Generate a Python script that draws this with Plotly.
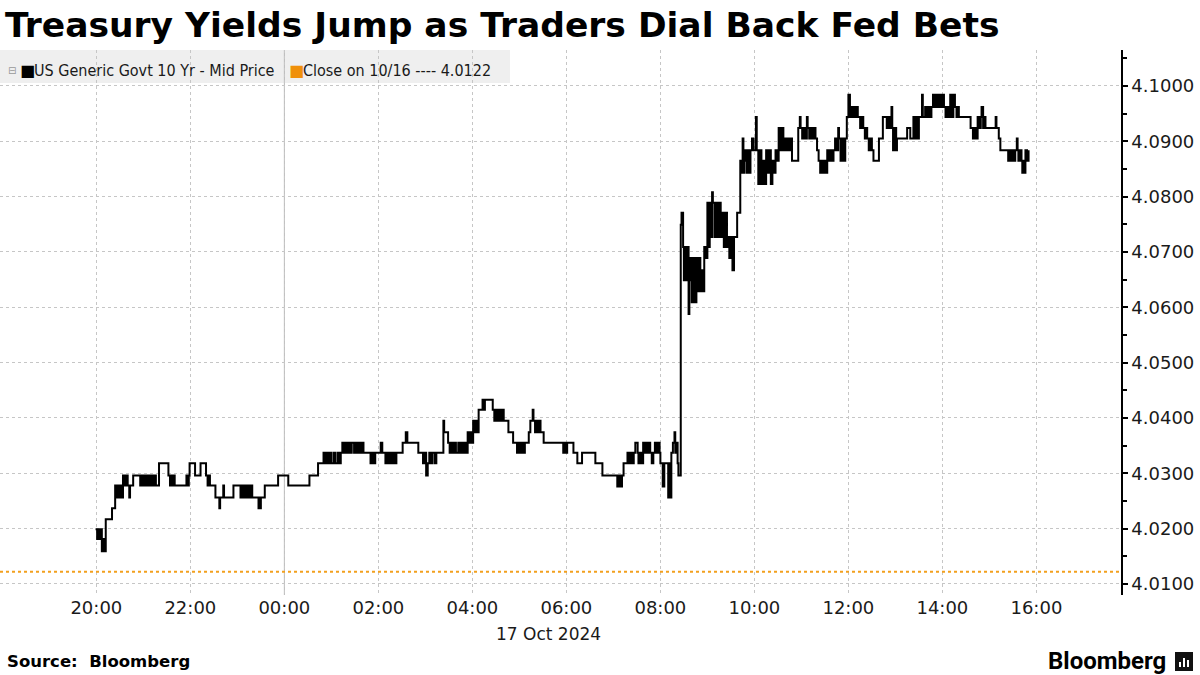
import plotly.graph_objects as go

# ---------------- data ----------------
title_text = "Treasury Yields Jump as Traders Dial Back Fed Bets"
series_name = "US Generic Govt 10 Yr - Mid Price"
close_label = "Close on 10/16 ---- 4.0122"
close_value = 4.0122
date_label = "17 Oct 2024"

times_oct16 = [
    "19:59", "20:01", "20:02", "20:04", "20:05", "20:07", "20:08", "20:09", "20:10", "20:11",
    "20:12", "20:20", "20:24", "20:26", "20:27", "20:28", "20:29", "20:31", "20:32", "20:33",
    "20:34", "20:35", "20:36", "20:37", "20:39", "20:40", "20:42", "20:43", "20:47", "20:56",
    "20:58", "20:59", "21:01", "21:02", "21:04", "21:06", "21:08", "21:09", "21:11", "21:13",
    "21:15", "21:16", "21:20", "21:32", "21:34", "21:35", "21:37", "21:38", "21:40", "21:55",
    "21:56", "21:58", "21:59", "22:06", "22:13", "22:20", "22:22", "22:23", "22:25", "22:32",
    "22:37", "22:38", "22:42", "22:43", "22:55", "23:04", "23:06", "23:08", "23:10", "23:12",
    "23:14", "23:16", "23:17", "23:19", "23:27", "23:28", "23:29", "23:30", "23:35", "23:52",
]
yields_oct16 = [
    4.0199, 4.0181, 4.0199, 4.0181, 4.0199, 4.0159, 4.0181, 4.0159, 4.0181, 4.0159,
    4.0217, 4.0237, 4.0278, 4.0256, 4.0278, 4.0256, 4.0278, 4.0256, 4.0278, 4.0256,
    4.0296, 4.0278, 4.0296, 4.0278, 4.0296, 4.0278, 4.0256, 4.0278, 4.0296, 4.0278,
    4.0296, 4.0278, 4.0296, 4.0278, 4.0296, 4.0278, 4.0296, 4.0278, 4.0296, 4.0278,
    4.0296, 4.0278, 4.0318, 4.0296, 4.0278, 4.0296, 4.0278, 4.0296, 4.0278, 4.0296,
    4.0278, 4.0296, 4.0318, 4.0296, 4.0318, 4.0296, 4.0278, 4.0296, 4.0278, 4.0256,
    4.0237, 4.0256, 4.0278, 4.0256, 4.0278, 4.0256, 4.0278, 4.0256, 4.0278, 4.0256,
    4.0278, 4.0256, 4.0278, 4.0256, 4.0237, 4.0256, 4.0237, 4.0256, 4.0278, 4.0296,
]

times_oct17 = [
    "00:05", "00:32", "00:43", "00:50", "00:52", "00:54", "00:56", "00:58", "01:00", "01:03",
    "01:05", "01:08", "01:10", "01:12", "01:14", "01:16", "01:18", "01:20", "01:22", "01:24",
    "01:26", "01:29", "01:31", "01:33", "01:35", "01:37", "01:39", "01:41", "01:50", "01:52",
    "01:54", "01:56", "02:03", "02:05", "02:09", "02:11", "02:13", "02:15", "02:17", "02:19",
    "02:21", "02:23", "02:31", "02:35", "02:37", "02:51", "02:57", "02:59", "03:01", "03:03",
    "03:05", "03:07", "03:09", "03:12", "03:14", "03:23", "03:24", "03:29", "03:31", "03:33",
    "03:35", "03:37", "03:39", "03:42", "03:44", "03:46", "03:48", "03:50", "03:52", "03:54",
    "03:56", "03:58", "04:00", "04:01", "04:03", "04:05", "04:06", "04:08", "04:13", "04:14",
    "04:16", "04:26", "04:28", "04:30", "04:32", "04:34", "04:36", "04:38", "04:40", "04:46",
    "04:52", "04:57", "04:59", "05:01", "05:03", "05:05", "05:07", "05:12", "05:14", "05:17",
    "05:18", "05:20", "05:22", "05:24", "05:25", "05:27", "05:31", "05:56", "05:58", "06:00",
    "06:01", "06:09", "06:14", "06:20", "06:37", "06:46", "07:05", "07:07", "07:09", "07:11",
    "07:13", "07:18", "07:20", "07:22", "07:24", "07:26", "07:28", "07:31", "07:32", "07:34",
    "07:36", "07:38", "07:40", "07:42", "07:44", "07:46", "07:47", "07:49", "07:51", "07:53",
    "07:55", "07:57", "07:59", "08:00", "08:03", "08:05", "08:10", "08:11", "08:12", "08:14",
    "08:16", "08:18", "08:19", "08:20", "08:22", "08:23", "08:26", "08:27", "08:29", "08:30",
    "08:32", "08:33", "08:35", "08:36", "08:37", "08:38", "08:40", "08:42", "08:44", "08:46",
    "08:48", "08:50", "08:51", "08:53", "08:55", "08:56", "08:58", "09:00", "09:01", "09:03",
    "09:04", "09:06", "09:07", "09:09", "09:11", "09:13", "09:15", "09:17", "09:19", "09:21",
    "09:23", "09:25", "09:26", "09:28", "09:30", "09:32", "09:34", "09:38", "09:42", "09:43",
    "09:45", "09:46", "09:47", "09:48", "09:50", "09:52", "09:54", "09:55", "09:57", "09:59",
    "10:02", "10:03", "10:05", "10:07", "10:09", "10:11", "10:13", "10:15", "10:17", "10:19",
    "10:21", "10:23", "10:25", "10:27", "10:29", "10:31", "10:33", "10:35", "10:37", "10:38",
    "10:40", "10:42", "10:44", "10:46", "10:48", "10:56", "10:58", "10:59", "11:01", "11:03",
    "11:05", "11:07", "11:08", "11:10", "11:12", "11:14", "11:16", "11:18", "11:20", "11:22",
    "11:24", "11:26", "11:28", "11:30", "11:32", "11:33", "11:35", "11:37", "11:39", "11:41",
    "11:43", "11:45", "11:47", "11:48", "11:50", "11:52", "11:54", "11:56", "11:58", "12:00",
    "12:02", "12:03", "12:05", "12:07", "12:09", "12:11", "12:12", "12:15", "12:17", "12:19",
    "12:21", "12:23", "12:24", "12:26", "12:28", "12:30", "12:32", "12:39", "12:44", "12:49",
    "12:51", "12:53", "12:55", "12:56", "12:57", "12:59", "13:01", "13:02", "13:15", "13:19",
    "13:23", "13:25", "13:27", "13:29", "13:30", "13:34", "13:35", "13:38", "13:40", "13:42",
    "13:44", "13:46", "13:48", "13:50", "13:52", "13:54", "13:56", "13:58", "14:00", "14:02",
    "14:04", "14:06", "14:08", "14:10", "14:12", "14:14", "14:16", "14:18", "14:19", "14:21",
    "14:36", "14:39", "14:41", "14:43", "14:45", "14:47", "14:49", "14:50", "14:52", "14:54",
    "14:55", "15:08", "15:09", "15:12", "15:14", "15:24", "15:26", "15:28", "15:30", "15:32",
    "15:33", "15:35", "15:36", "15:37", "15:39", "15:41", "15:42", "15:44", "15:45", "15:46",
    "15:48", "15:50",
]
yields_oct17 = [
    4.0278, 4.0296, 4.0318, 4.0337, 4.0318, 4.0337, 4.0318, 4.0337, 4.0318, 4.0337,
    4.0318, 4.0337, 4.0318, 4.0337, 4.0355, 4.0337, 4.0355, 4.0337, 4.0355, 4.0337,
    4.0355, 4.0337, 4.0355, 4.0337, 4.0355, 4.0337, 4.0355, 4.0337, 4.0318, 4.0337,
    4.0318, 4.0337, 4.0355, 4.0337, 4.0318, 4.0337, 4.0318, 4.0337, 4.0318, 4.0337,
    4.0318, 4.0337, 4.0355, 4.0374, 4.0355, 4.0337, 4.0318, 4.0337, 4.0296, 4.0318,
    4.0337, 4.0318, 4.0337, 4.0318, 4.0337, 4.0395, 4.0374, 4.0355, 4.0337, 4.0355,
    4.0337, 4.0355, 4.0337, 4.0355, 4.0337, 4.0355, 4.0337, 4.0355, 4.0337, 4.0374,
    4.0355, 4.0374, 4.0355, 4.0395, 4.0374, 4.0395, 4.0374, 4.0415, 4.0433, 4.0415,
    4.0433, 4.0415, 4.0395, 4.0415, 4.0395, 4.0415, 4.0395, 4.0415, 4.0395, 4.0374,
    4.0355, 4.0337, 4.0355, 4.0337, 4.0355, 4.0337, 4.0355, 4.0374, 4.0395, 4.0415,
    4.0395, 4.0374, 4.0395, 4.0374, 4.0395, 4.0374, 4.0355, 4.0337, 4.0355, 4.0337,
    4.0355, 4.0337, 4.0318, 4.0337, 4.0318, 4.0296, 4.0276, 4.0296, 4.0276, 4.0296,
    4.0318, 4.0337, 4.0318, 4.0337, 4.0318, 4.0337, 4.0355, 4.0337, 4.0318, 4.0337,
    4.0318, 4.0355, 4.0337, 4.0355, 4.0337, 4.0355, 4.0337, 4.0318, 4.0337, 4.0355,
    4.0337, 4.0355, 4.0337, 4.0318, 4.0276, 4.0318, 4.0256, 4.0318, 4.0256, 4.0337,
    4.0355, 4.0374, 4.0337, 4.0355, 4.0318, 4.0296, 4.0749, 4.0771, 4.0709, 4.0649,
    4.0709, 4.0649, 4.0709, 4.0588, 4.0649, 4.0689, 4.0609, 4.0689, 4.0609, 4.0689,
    4.0629, 4.0689, 4.0629, 4.0667, 4.0629, 4.0709, 4.0689, 4.0789, 4.0709, 4.0789,
    4.0727, 4.0808, 4.0789, 4.0727, 4.0789, 4.0727, 4.0789, 4.0727, 4.0771, 4.0709,
    4.0771, 4.0709, 4.0727, 4.0689, 4.0727, 4.0667, 4.0727, 4.0771, 4.0865, 4.0843,
    4.0905, 4.0843, 4.0865, 4.0884, 4.0843, 4.0884, 4.0843, 4.0884, 4.0905, 4.0884,
    4.0944, 4.0884, 4.0823, 4.0884, 4.0823, 4.0865, 4.0823, 4.0884, 4.0843, 4.0884,
    4.0823, 4.0865, 4.0843, 4.0884, 4.0865, 4.0924, 4.0884, 4.0924, 4.0884, 4.0905,
    4.0884, 4.0905, 4.0884, 4.0905, 4.0865, 4.0924, 4.0944, 4.0924, 4.0905, 4.0924,
    4.0905, 4.0944, 4.0924, 4.0905, 4.0924, 4.0905, 4.0924, 4.0905, 4.0884, 4.0865,
    4.0843, 4.0865, 4.0843, 4.0865, 4.0843, 4.0884, 4.0865, 4.0884, 4.0865, 4.0884,
    4.0905, 4.0884, 4.0924, 4.0905, 4.0865, 4.0905, 4.0865, 4.0905, 4.0944, 4.0984,
    4.0944, 4.0962, 4.0944, 4.0962, 4.0944, 4.0962, 4.0944, 4.0924, 4.0944, 4.0924,
    4.0905, 4.0924, 4.0905, 4.0884, 4.0905, 4.0884, 4.0865, 4.0905, 4.0944, 4.0924,
    4.0944, 4.0924, 4.0962, 4.0924, 4.0884, 4.0924, 4.0884, 4.0905, 4.0924, 4.0905,
    4.0944, 4.0905, 4.0944, 4.0905, 4.0944, 4.0984, 4.0944, 4.0962, 4.0944, 4.0962,
    4.0944, 4.0962, 4.0984, 4.0962, 4.0984, 4.0962, 4.0984, 4.0962, 4.0984, 4.0962,
    4.0944, 4.0962, 4.0944, 4.0984, 4.0944, 4.0984, 4.0962, 4.0944, 4.0962, 4.0944,
    4.0924, 4.0905, 4.0924, 4.0905, 4.0944, 4.0924, 4.0944, 4.0962, 4.0924, 4.0944,
    4.0924, 4.0944, 4.0924, 4.0905, 4.0884, 4.0865, 4.0884, 4.0865, 4.0884, 4.0865,
    4.0884, 4.0905, 4.0884, 4.0865, 4.0884, 4.0865, 4.0843, 4.0865, 4.0843, 4.0884,
    4.0865, 4.0884,
]

y_tick_values = [4.01, 4.02, 4.03, 4.04, 4.05, 4.06, 4.07, 4.08, 4.09, 4.10]
y_tick_labels = ["4.0100", "4.0200", "4.0300", "4.0400", "4.0500",
                 "4.0600", "4.0700", "4.0800", "4.0900", "4.1000"]
y_minor_ticks = [4.015, 4.025, 4.035, 4.045, 4.055, 4.065, 4.075, 4.085, 4.095, 4.105]
x_tick_values = ["2024-10-16 20:00", "2024-10-16 22:00", "2024-10-17 00:00",
                 "2024-10-17 02:00", "2024-10-17 04:00", "2024-10-17 06:00",
                 "2024-10-17 08:00", "2024-10-17 10:00", "2024-10-17 12:00",
                 "2024-10-17 14:00", "2024-10-17 16:00"]
x_tick_labels = ["20:00", "22:00", "00:00", "02:00", "04:00", "06:00",
                 "08:00", "10:00", "12:00", "14:00", "16:00"]
day_boundary = "2024-10-17 00:00"
x_range = ["2024-10-16 17:57", "2024-10-17 17:48"]
y_range = [4.0080, 4.1065]

assert len(times_oct16) == len(yields_oct16)
assert len(times_oct17) == len(yields_oct17)

times = ["2024-10-16 " + t for t in times_oct16] + ["2024-10-17 " + t for t in times_oct17]
yields = yields_oct16 + yields_oct17

# ---------------- figure ----------------
W, H = 1200, 675
ML, MR, MT, MB = 0, 79, 50, 80
PW = W - ML - MR
PH = H - MT - MB

ORANGE = "#F0900A"
CLOSE_LINE = "#F2A01E"
GRID = "#c6c6c6"
TXT = "#1a1a1a"


def px_x(px):
    return (px - ML) / PW


def px_y(py):
    return (H - MB - py) / PH


fig = go.Figure()

fig.add_trace(go.Scatter(
    x=times, y=yields, mode="lines", name=series_name,
    line=dict(color="black", width=2, shape="hv"),
    showlegend=False, hoverinfo="skip",
))

fig.add_trace(go.Scatter(
    x=x_range, y=[close_value, close_value], mode="lines", name=close_label,
    line=dict(color=CLOSE_LINE, width=2, dash="dot"),
    showlegend=False, hoverinfo="skip",
))

shapes = [
    # legend background strip
    dict(type="rect", xref="paper", yref="paper", x0=0, x1=px_x(510),
         y0=px_y(83), y1=1, fillcolor="#efefef", line=dict(width=0), layer="below"),
    # solid day-boundary line
    dict(type="line", xref="x", yref="paper", x0=day_boundary, x1=day_boundary,
         y0=0, y1=1, line=dict(color="#b8b8b8", width=1), layer="below"),
    # bloomberg logo tile
    dict(type="rect", xref="paper", yref="paper", x0=px_x(1175), x1=px_x(1193),
         y0=px_y(671), y1=px_y(652), fillcolor="#111111", line=dict(width=0)),
]
for bx0, bx1, btop in [(1179, 1181, 662), (1183, 1185, 658), (1187, 1189, 660)]:
    shapes.append(dict(type="rect", xref="paper", yref="paper", x0=px_x(bx0), x1=px_x(bx1),
                       y0=px_y(667), y1=px_y(btop), fillcolor="white", line=dict(width=0)))

leg_y = px_y(71)
annotations = [
    dict(text="⊟", x=px_x(6), y=leg_y, xref="paper", yref="paper", xanchor="left",
         yanchor="middle", showarrow=False, font=dict(size=10, color="#999999", family="DejaVu Sans")),
    dict(text="■", x=px_x(18), y=leg_y, xref="paper", yref="paper", xanchor="left",
         yanchor="middle", showarrow=False, font=dict(size=16, color="black", family="DejaVu Sans")),
    dict(text=series_name, x=px_x(32), y=leg_y, xref="paper", yref="paper", xanchor="left",
         yanchor="middle", showarrow=False,
         font=dict(size=16, color=TXT, family="DejaVu Sans Condensed, Roboto, sans-serif")),
    dict(text="■", x=px_x(287), y=leg_y, xref="paper", yref="paper", xanchor="left",
         yanchor="middle", showarrow=False, font=dict(size=16, color=ORANGE, family="DejaVu Sans")),
    dict(text=close_label, x=px_x(301), y=leg_y, xref="paper", yref="paper", xanchor="left",
         yanchor="middle", showarrow=False,
         font=dict(size=16, color=TXT, family="DejaVu Sans Condensed, Roboto, sans-serif")),
    dict(text=date_label, x=px_x(548), y=px_y(634), xref="paper", yref="paper",
         xanchor="center", yanchor="middle", showarrow=False,
         font=dict(size=17, color=TXT, family="DejaVu Sans")),
    dict(text="<b>Source:  Bloomberg</b>", x=px_x(5), y=px_y(661), xref="paper", yref="paper",
         xanchor="left", yanchor="middle", showarrow=False,
         font=dict(size=16.5, color="black", family="DejaVu Sans")),
    dict(text="<b>Bloomberg</b>", x=px_x(1168), y=px_y(661), xref="paper", yref="paper",
         xanchor="right", yanchor="middle", showarrow=False,
         font=dict(size=24, color="black", family="Roboto")),
]

fig.update_layout(
    width=W, height=H,
    margin=dict(l=ML, r=MR, t=MT, b=MB),
    paper_bgcolor="white", plot_bgcolor="white",
    title=dict(text="<b>" + title_text + "</b>", x=5 / W, xref="container", xanchor="left",
               y=1 - 25 / H, yref="container", yanchor="middle",
               font=dict(size=34.5, color="black", family="DejaVu Sans")),
    xaxis=dict(
        type="date", range=x_range,
        tickmode="array", tickvals=x_tick_values, ticktext=x_tick_labels,
        showgrid=True, gridcolor=GRID, griddash="dot", gridwidth=1,
        showline=False, zeroline=False, ticks="",
        tickfont=dict(size=18, color=TXT, family="DejaVu Sans"),
    ),
    yaxis=dict(
        side="right", range=y_range,
        tickmode="array", tickvals=y_tick_values, ticktext=y_tick_labels,
        showgrid=True, gridcolor=GRID, griddash="dot", gridwidth=1,
        showline=True, linecolor="black", linewidth=1.5,
        ticks="outside", ticklen=5, tickwidth=2, tickcolor="black",
        minor=dict(tickvals=y_minor_ticks, ticks="outside", ticklen=4,
                   tickcolor="black", showgrid=False),
        zeroline=False,
        tickfont=dict(size=18, color=TXT, family="DejaVu Sans"),
    ),
    shapes=shapes,
    annotations=annotations,
    showlegend=False,
)

fig.write_html(
    "out.html",
    config={"displayModeBar": False},
    post_script="document.body.style.margin='0';document.body.style.padding='0';"
                "document.body.style.overflow='hidden';",
)
